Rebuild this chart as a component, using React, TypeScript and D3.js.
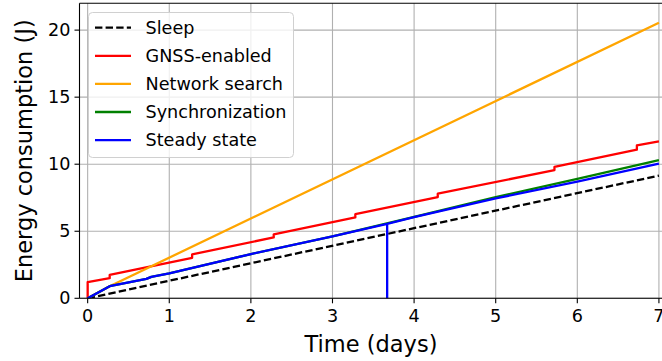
import React from "react";
import * as d3 from "d3";

type P = [number, number];

const xTicks = [0, 1, 2, 3, 4, 5, 6, 7];
const yTicks = [0, 5, 10, 15, 20];

const sleepData: P[] = [[0, 0], [7, 9.15]];
const gnssData: P[] = [
  [0, 0], [0, 1.2], [0.27, 1.5], [0.27, 1.75], [1.28, 3.02], [1.28, 3.27],
  [2.28, 4.54], [2.28, 4.77], [3.28, 6.03], [3.28, 6.27], [4.29, 7.55], [4.29, 7.8],
  [5.72, 9.56], [5.72, 9.81], [6.73, 11.08], [6.73, 11.4], [7, 11.7],
];
const networkData: P[] = [[0, 0], [0.27, 0.9], [7, 20.55]];
const syncData: P[] = [
  [0, 0], [0.27, 0.9], [0.72, 1.45], [0.78, 1.6], [1, 1.85], [2, 3.3], [3, 4.62],
  [4, 6.08], [5, 7.55], [6, 8.9], [7, 10.3],
];
const steadyData: P[] = [
  [0, 0], [0.27, 0.9], [0.72, 1.45], [0.78, 1.6], [1, 1.85], [2, 3.3], [3, 4.62],
  [3.67, 5.55], [3.67, 0], [3.67, 5.55], [4, 6.05], [5, 7.45], [6, 8.7], [7, 10.05],
];

const seriesNames = ["Sleep", "GNSS-enabled", "Network search", "Synchronization", "Steady state"];
const seriesColors = ["#000000", "#ff0000", "#ffa500", "#008000", "#0000ff"];
const seriesData = [sleepData, gnssData, networkData, syncData, steadyData];

const W = 662;
const H = 361;
const font = "DejaVu Sans, sans-serif";

export default function App() {
  const x = d3.scaleLinear().domain([-0.1, 7.05]).range([79.5, 663]);
  const y = d3.scaleLinear().domain([0, 22]).range([298.3, 3.3]);
  const line = d3.line<P>().x((d) => x(d[0])).y((d) => y(d[1]));
  const left = 79.5, right = 663, top = 3.3, bottom = 298.3;

  return (
    <svg width={W} height={H} style={{ position: "absolute", left: 0, top: 0, background: "#fff" }}>
      <defs>
        <clipPath id="plot">
          <rect x={left} y={top} width={right - left} height={bottom - top} />
        </clipPath>
      </defs>
      {/* grid */}
      {xTicks.map((t) => (
        <line key={"gx" + t} x1={x(t)} x2={x(t)} y1={top} y2={bottom} stroke="#b0b0b0" strokeWidth={1.1} />
      ))}
      {yTicks.map((t) => (
        <line key={"gy" + t} x1={left} x2={right} y1={y(t)} y2={y(t)} stroke="#b0b0b0" strokeWidth={1.1} />
      ))}
      {/* series */}
      <g clipPath="url(#plot)">
        {seriesData.map((d, i) => (
          <path
            key={seriesNames[i]}
            d={line(d) || ""}
            fill="none"
            stroke={seriesColors[i]}
            strokeWidth={2.3}
            strokeDasharray={i === 0 ? "7.4,3.2" : undefined}
            strokeLinejoin="round"
          />
        ))}
      </g>
      {/* spines */}
      <line x1={left} x2={left} y1={top} y2={bottom} stroke="#000" strokeWidth={1.1} />
      <line x1={left} x2={right} y1={bottom} y2={bottom} stroke="#000" strokeWidth={1.1} />
      <line x1={left} x2={right} y1={top} y2={top} stroke="#000" strokeWidth={1.1} />
      {/* ticks */}
      {xTicks.map((t) => (
        <g key={"tx" + t}>
          <line x1={x(t)} x2={x(t)} y1={bottom} y2={bottom + 5} stroke="#000" strokeWidth={1.1} />
          <text x={x(t)} y={bottom + 24} textAnchor="middle" fontFamily={font} fontSize={17.6} fill="#000">
            {t}
          </text>
        </g>
      ))}
      {yTicks.map((t) => (
        <g key={"ty" + t}>
          <line x1={left - 5} x2={left} y1={y(t)} y2={y(t)} stroke="#000" strokeWidth={1.1} />
          <text x={left - 9} y={y(t)} dy="0.35em" textAnchor="end" fontFamily={font} fontSize={17.6} fill="#000">
            {t}
          </text>
        </g>
      ))}
      {/* axis labels */}
      <text x={371} y={352} textAnchor="middle" fontFamily={font} fontSize={22.5} fill="#000">
        Time (days)
      </text>
      <text
        transform={`translate(32,${(top + bottom) / 2}) rotate(-90)`}
        textAnchor="middle"
        fontFamily={font}
        fontSize={22.5}
        fill="#000"
      >
        Energy consumption (J)
      </text>
      {/* legend */}
      <rect x={88.5} y={12.5} width={205} height={145} rx={4} fill="#fff" fillOpacity={0.8} stroke="#d0d0d0" strokeWidth={1} />
      {seriesNames.map((n, i) => {
        const ly = 27.7 + i * 28.1;
        return (
          <g key={"lg" + n}>
            <line
              x1={95}
              x2={131}
              y1={ly}
              y2={ly}
              stroke={seriesColors[i]}
              strokeWidth={2.3}
              strokeDasharray={i === 0 ? "7.4,3.2" : undefined}
            />
            <text x={145.5} y={ly} dy="0.35em" fontFamily={font} fontSize={17.6} fill="#000">
              {n}
            </text>
          </g>
        );
      })}
    </svg>
  );
}
